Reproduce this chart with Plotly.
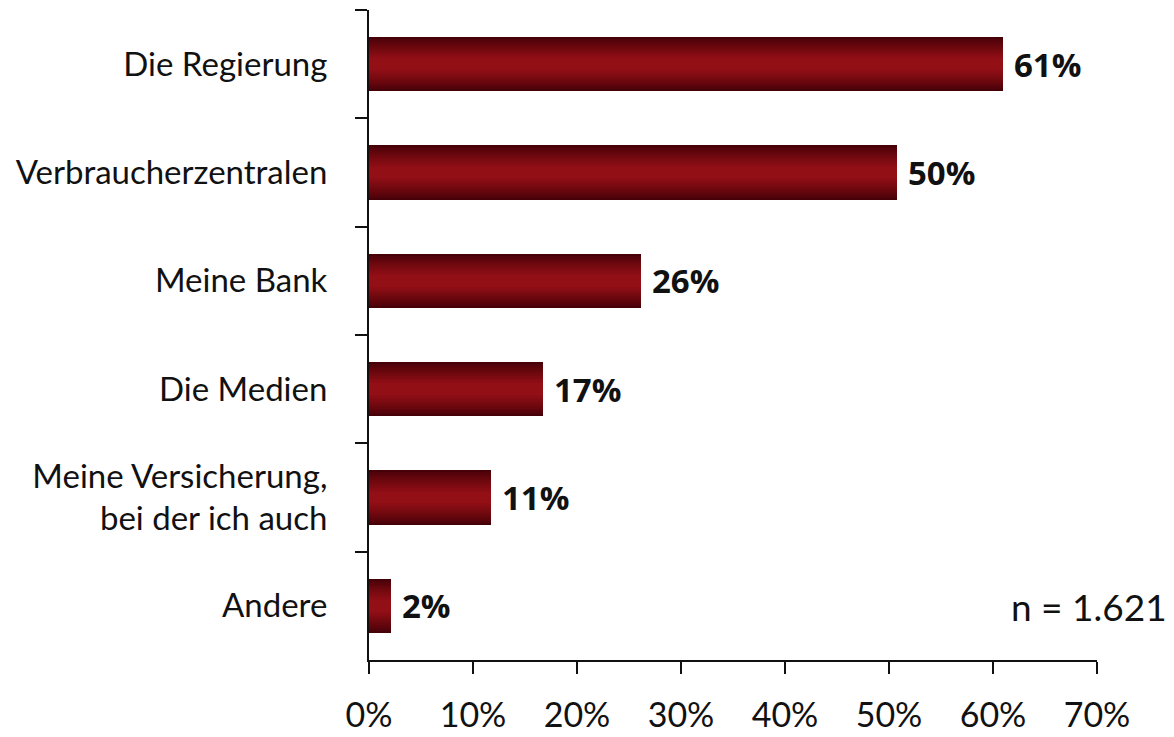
import plotly.graph_objects as go

categories = ["Die Regierung", "Verbraucherzentralen", "Meine Bank", "Die Medien",
              "Meine Versicherung,<br>bei der ich auch", "Andere"]
values = [61.0, 50.8, 26.2, 16.7, 11.7, 2.1]
value_labels = ["61%", "50%", "26%", "17%", "11%", "2%"]
x_ticks = [0, 10, 20, 30, 40, 50, 60, 70]
x_tick_labels = ["0%", "10%", "20%", "30%", "40%", "50%", "60%", "70%"]

dark = (70, 0, 8)
bright = (146, 15, 22)
n_layers = 14
full_width = 0.5

fig = go.Figure()
for i in range(n_layers):
    t = i / (n_layers - 1)
    f = min(1.0, (t ** 0.8) * 1.15)
    col = tuple(int(dark[k] + (bright[k] - dark[k]) * f) for k in range(3))
    w = full_width * (1 - i / n_layers)
    fig.add_trace(go.Bar(
        y=categories, x=values, orientation="h", width=w,
        marker=dict(color="rgb(%d,%d,%d)" % col, line=dict(width=0)),
        hoverinfo="skip", showlegend=False,
    ))

for c, v, lab in zip(categories, values, value_labels):
    fig.add_annotation(x=v, y=c, text="<b>%s</b>" % lab, showarrow=False,
                       xanchor="left", xshift=9, yshift=0,
                       font=dict(family="Open Sans", size=33, color="#111111"))

fig.add_annotation(x=1.0985, y=0.082, xref="paper", yref="paper", text="n = 1.621",
                   showarrow=False, xanchor="right", yanchor="middle",
                   font=dict(family="Lato", size=37, color="#111111"))

fig.update_layout(
    width=1174, height=737,
    margin=dict(l=361, r=85, t=2, b=85),
    paper_bgcolor="white", plot_bgcolor="white",
    barmode="overlay", bargap=0,
    font=dict(family="Lato", size=33, color="#111111"),
)
fig.update_xaxes(range=[0, 70], tickvals=x_ticks, ticktext=x_tick_labels,
                 showline=True, linecolor="#111111", linewidth=2,
                 ticks="outside", ticklen=12, tickwidth=2, tickcolor="#111111",
                 showgrid=False, zeroline=False, ticklabelstandoff=12, automargin=False,
                 tickfont=dict(family="Lato", size=34, color="#111111"))
fig.update_yaxes(categoryorder="array", categoryarray=categories, autorange="reversed",
                 showline=True, linecolor="#111111", linewidth=2,
                 ticks="outside", ticklen=12, tickwidth=2, tickcolor="#111111",
                 tickson="boundaries", showgrid=False, zeroline=False,
                 ticklabelstandoff=33, automargin=False,
                 tickfont=dict(family="Lato", size=33, color="#111111"))

fig.write_html("out.html")
